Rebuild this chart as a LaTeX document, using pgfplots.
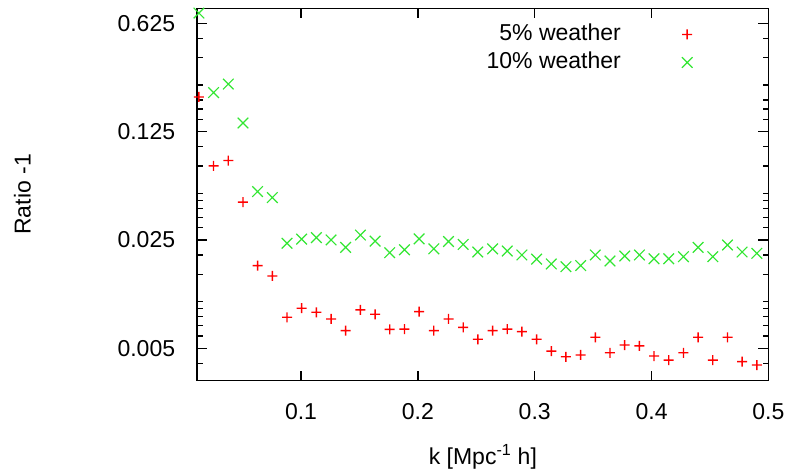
\documentclass[border=0pt]{standalone}
\usepackage{fontspec}
\setmainfont{Liberation Sans}
\usepackage{pgfplots}
\usepackage{pgfplotstable}
\pgfplotsset{compat=1.18}

\definecolor{wred}{RGB}{255,0,0}
\definecolor{wgreen}{RGB}{50,230,50}

% a plus sign built from two filled bars, so it renders with even weight
\pgfdeclareplotmark{barplus}{%
  \pgfpathrectangle{\pgfqpoint{-\pgfplotmarksize}{-0.7pt}}{\pgfqpoint{2\pgfplotmarksize}{1.4pt}}%
  \pgfpathrectangle{\pgfqpoint{-0.7pt}{-\pgfplotmarksize}}{\pgfqpoint{1.4pt}{2\pgfplotmarksize}}%
  \pgfusepathqfill}

% k [h/Mpc], ratio-1 for the two weather levels
\pgfplotstableread{
k      five     ten
0.0126 0.209    0.727
0.0251 0.0752   0.223
0.0377 0.0813   0.253
0.0503 0.0438   0.142
0.0628 0.01707  0.0513
0.0754 0.01464  0.0469
0.0880 0.00793  0.0238
0.1005 0.00907  0.0253
0.1131 0.00854  0.0259
0.1257 0.00773  0.0250
0.1382 0.00650  0.0224
0.1508 0.00884  0.0269
0.1634 0.00829  0.0246
0.1759 0.00663  0.0207
0.1885 0.00665  0.0216
0.2011 0.00862  0.0254
0.2136 0.00650  0.0219
0.2262 0.00773  0.0244
0.2388 0.00683  0.0234
0.2513 0.00572  0.0209
0.2639 0.00650  0.0219
0.2765 0.00665  0.0212
0.2890 0.00640  0.0200
0.3016 0.00572  0.0188
0.3142 0.00480  0.0175
0.3267 0.00441  0.0168
0.3393 0.00453  0.0171
0.3519 0.00589  0.0200
0.3644 0.00468  0.0183
0.3770 0.00525  0.0197
0.3896 0.00518  0.0200
0.4021 0.00446  0.0189
0.4147 0.00420  0.0189
0.4273 0.00468  0.0195
0.4398 0.00589  0.0224
0.4524 0.00420  0.0195
0.4650 0.00589  0.0232
0.4775 0.00410  0.0209
0.4901 0.00390  0.0205
}\ratiodata

\begin{document}
\fontsize{23}{27}\selectfont
\begin{tikzpicture}
\path[use as bounding box] (-197.3pt,-90.5pt) rectangle (596.7pt,380.5pt);
\begin{axis}[
  at={(0pt,0pt)}, anchor=south west,
  scale only axis,
  width=571.1pt, height=372.2pt,
  xmin=0.0112, xmax=0.5,
  ymode=log, ymin=0.0031, ymax=0.78,
  axis line style={line width=1.6pt},
  every tick/.style={line width=1.4pt},
  major tick length=10pt, minor tick length=5.5pt,
  tick align=inside,
  xtick={0.1,0.2,0.3,0.4,0.5},
  xticklabels={0.1,0.2,0.3,0.4,0.5},
  ytick={0.005,0.025,0.125,0.625},
  yticklabels={0.005,0.025,0.125,0.625},
  minor ytick={0.004,0.006,0.007,0.008,0.009,0.01,0.015,0.02,
               0.03,0.035,0.04,0.045,0.05,0.075,0.1,
               0.15,0.175,0.2,0.25,0.375,0.5},
  /pgf/number format/assume math mode=true,
  tick label style={font=\fontsize{23}{27}\selectfont},
  xticklabel style={anchor=north, inner sep=0pt, yshift=-22.5pt},
  yticklabel style={anchor=east, inner sep=0pt, xshift=-22pt},
  xlabel={k [Mpc\textsuperscript{-1} h]},
  xlabel style={at={(axis description cs:0.5,0)}, anchor=base,
                inner sep=0pt, yshift=-84pt},
  ylabel={Ratio -1},
  % the label is turned by 90 degrees, so a shift along its own y moves it left
  ylabel style={at={(axis description cs:0,0.5)}, anchor=center,
                inner sep=0pt, yshift=174.8pt},
  label style={font=\fontsize{23}{27}\selectfont},
  legend plot pos=right,
  legend cell align=right,
  legend style={draw=none, fill=none,
                font=\fontsize{23}{27}\selectfont,
                at={(axis description cs:0.8727,0.9651)}, anchor=north east,
                row sep=6pt, column sep=0pt,
                nodes={inner sep=0pt, text height=17pt, text depth=5pt},
                /tikz/every odd column/.style={column sep=61pt}},
]
\addplot[only marks, mark=barplus, mark size=5pt,
         color=wred, mark options={fill=wred, draw=none}]
  table[x=k, y=five] {\ratiodata};
\addlegendentry{5\% weather}
\addplot[only marks, mark=x, mark size=7.5pt, line width=1.2pt,
         color=wgreen, mark options={draw=wgreen}]
  table[x=k, y=ten] {\ratiodata};
\addlegendentry{10\% weather}
\end{axis}
\end{tikzpicture}
\end{document}
